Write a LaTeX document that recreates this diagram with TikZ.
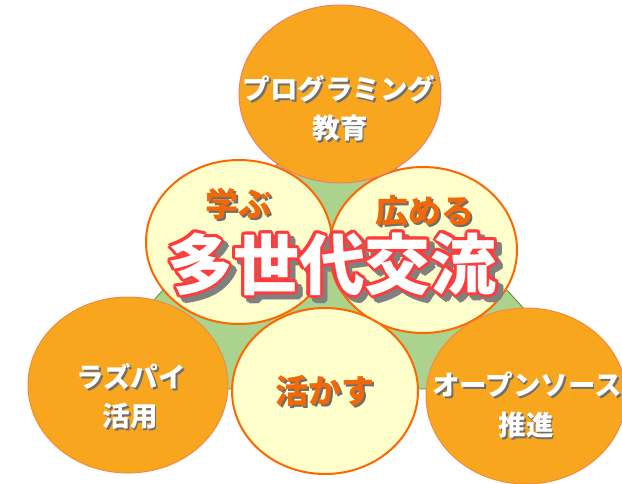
\documentclass[tikz,border=0pt]{standalone}
\usepackage{fontspec}
\newfontfamily\jp{Noto Sans CJK JP}
\definecolor{orfill}{RGB}{248,166,30}
\definecolor{orline}{RGB}{240,140,60}
\definecolor{topline}{RGB}{236,128,110}
\definecolor{cream}{RGB}{255,255,204}
\definecolor{crline}{RGB}{255,102,0}
\definecolor{grfill}{RGB}{171,211,142}
\definecolor{grline}{RGB}{90,140,60}
\definecolor{ortext}{RGB}{242,104,8}
\definecolor{tred}{RGB}{255,60,60}
\definecolor{tgray}{RGB}{128,128,128}
\definecolor{sgray}{RGB}{110,110,110}
\tikzset{
  orell/.style={ellipse, draw=orline, line width=1pt, fill=orfill},
  crell/.style={ellipse, draw=crline, line width=2pt, fill=cream},
  wtxt/.style={inner sep=0pt, align=center, text=white, font=\jp\bfseries\fontsize{27.5}{38}\selectfont},
  wshd/.style={wtxt, text=sgray},
  otxt/.style={inner sep=0pt, text=ortext, font=\jp\bfseries\fontsize{33}{36}\selectfont},
  oshd/.style={otxt, text=sgray},
  ttl/.style={inner sep=0pt, font=\jp\bfseries\fontsize{66}{70}\selectfont},
}
\usetikzlibrary{shapes.geometric}
\newcommand\wlabel[3]{%
  \node[wshd] (#1s) at ([shift={(1.8,1.8)}]#2) {#3};
  \node[wtxt] (#1) at (#2) {#3};}
\newcommand\olabel[3]{%
  \node[oshd] (#1s) at ([shift={(2,2)}]#2) {#3};
  \node[otxt] (#1) at (#2) {#3};}
\begin{document}
\begin{tikzpicture}[x=1pt,y=-1pt]
\useasboundingbox (0,0) rectangle (622,483);
% triangle
\coordinate (ta) at (335,101);
\coordinate (tl) at (73,389);
\coordinate (tr) at (597,389);
\draw[grline, line width=0.8pt, fill=grfill] (ta) -- (tl) -- (tr) -- cycle;
% upper cream ellipses
\node[crell, minimum width=186pt, minimum height=164pt] (manabu) at (239,242) {};
\node[crell, minimum width=188pt, minimum height=166pt] (hiromeru) at (423,250) {};
% top orange
\node[orell, draw=topline, minimum width=202pt, minimum height=178pt] (prog) at (340,94) {};
% bottom row
\node[orell, minimum width=200pt, minimum height=176pt] (raspi) at (128,385) {};
\node[crell, minimum width=186pt, minimum height=166pt] (ikasu) at (325,391) {};
\node[orell, minimum width=200pt, minimum height=176pt] (oss) at (526,396) {};
% labels
\wlabel{progt}{339,89}{プログラミング}
\wlabel{progt2}{340,128}{教育}
\wlabel{raspit}{131,377}{ラズパイ}
\wlabel{raspit2}{130,416}{活用}
\wlabel{osst}{527,385}{オープンソース}
\wlabel{osst2}{526,425}{推進}
\olabel{manabut}{238,204}{学ぶ}
\olabel{hiromerut}{425,211}{広める}
\olabel{ikasut}{325,391}{活かす}
% title
\coordinate (tc) at (332,264);
\coordinate (tcs) at (337,269);
\node[ttl, text=tgray] (tsh) at (tcs) {多世代交流};
\foreach \a in {0,30,...,330} {
  \node[ttl, text=tgray] (tsh\a) at ([shift={(\a:3)}]tcs) {多世代交流};
}
\foreach \a in {0,30,...,330} {
  \node[ttl, text=tred] (tr\a) at ([shift={(\a:3)}]tc) {多世代交流};
}
\node[ttl, text=white] (title) at (tc) {多世代交流};
\end{tikzpicture}
\end{document}
